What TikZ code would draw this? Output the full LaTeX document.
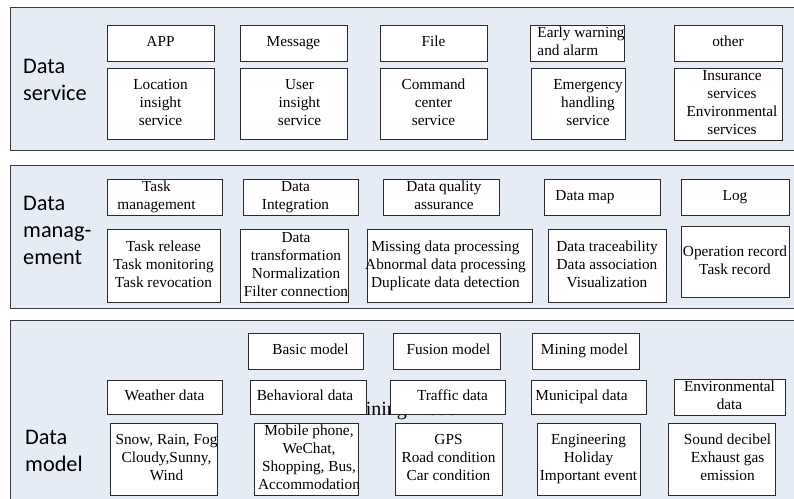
\documentclass[tikz,border=0pt]{standalone}
\usepackage{fontspec}
\setmainfont{Liberation Serif}
\newfontfamily\lblfont{Carlito}
\definecolor{bandfill}{HTML}{E6ECF6}
\definecolor{bandline}{HTML}{3C3C3C}
\definecolor{boxline}{HTML}{2A2A2A}
\newcommand\boxfont{\fontsize{15.3}{18}\selectfont}
% \cell[opts]{name}{x1}{y1}{x2}{y2}{text shift}{lines}
\newcommand\cell[8][]{%
  \node[box,#1,minimum width={(#5-#3)*1pt},minimum height={(#6-#4)*1pt}]
    (#2) at ({(#3+#5)/2},{(#4+#6)/2})
    {\makebox[0pt]{\hspace*{#7pt}\hspace*{#7pt}\raisebox{-1.5pt}{\begin{tabular}{@{}c@{}}#8\end{tabular}}}};}
\tikzset{
  band/.style={draw=bandline, fill=bandfill, line width=1.2pt},
  box/.style={draw=boxline, fill=white, line width=0.9pt, inner sep=0pt, font=\boxfont},
  lbl/.style={anchor=west, inner sep=0pt, align=left, font=\lblfont\fontsize{22.3}{27}\selectfont},
}
\begin{document}
\begin{tikzpicture}[x=1pt,y=-1pt]
\useasboundingbox (0,0) rectangle (794,498);
\clip (0,0) rectangle (794,498);

% three layers
\node[band, minimum width=800pt, minimum height=143pt, anchor=north west] (svc) at (10,7) {};
\node[band, minimum width=800pt, minimum height=143pt, anchor=north west] (mgmt) at (10,165) {};
\node[band, minimum width=800pt, minimum height=200pt, anchor=north west] (model) at (10,320) {};

\node[lbl] (lsvc) at (23,80) {Data\\service};
\node[lbl] (lmgmt) at (23,230) {Data\\manag-\\ement};
\node[lbl] (lmodel) at (25,451) {Data\\model};

% data service layer
\cell{app}{107}{25}{214}{61}{0}{APP}
\cell{msg}{240}{25}{347}{61}{0}{Message}
\cell{file}{380}{25}{487}{61}{0}{File}
\node[box, minimum width=94pt, minimum height=36pt] (warn) at (577,43)
  {\makebox[0pt]{\hspace*{8pt}\raisebox{-2pt}{\begin{tabular}{@{}l@{}}Early warning\\and alarm\end{tabular}}}};
\cell{other}{674}{25}{782}{61}{0}{other}
\cell{loc}{107}{68}{214}{139}{0}{Location\\insight\\service}
\cell{user}{240}{68}{347}{139}{6}{User\\insight\\service}
\cell{cmd}{380}{68}{487}{139}{0}{Command\\center\\service}
\cell{emer}{531}{68}{625}{139}{10}{Emergency\\handling\\service}
\cell{ins}{674}{68}{782}{140}{4}{Insurance\\services\\Environmental\\services}

% data management layer
\cell{task}{107}{179}{222}{215}{-8}{Task\\management}
\cell{integ}{243}{179}{358}{215}{-5}{Data\\Integration}
\cell{qual}{383}{179}{499}{215}{3}{Data quality\\assurance}
\cell{dmap}{544}{179}{660}{215}{-17}{Data map}
\cell{log}{681}{179}{789}{215}{0}{Log}
\cell{trel}{107}{229}{220}{302}{0}{Task release\\Task monitoring\\Task revocation}
\cell{trans}{240}{229}{348}{302}{2}{Data\\transformation\\Normalization\\Filter connection}
\cell{miss}{367}{229}{532}{302}{-4}{Missing data processing\\Abnormal data processing\\Duplicate data detection}
\cell{trace}{548}{229}{666}{302}{0}{Data traceability\\Data association\\Visualization}
\cell{oper}{681}{226}{789}{297}{0}{Operation record\\Task record}

% data model layer; the loose caption sits under the boxes
\node[font=\fontsize{20}{24}\selectfont, anchor=base, inner sep=0pt] (ghost) at (405,415) {Mining model};
\cell{basic}{248}{333}{363}{369}{5}{Basic model}
\cell{fusion}{393}{333}{500}{369}{2}{Fusion model}
\cell{mining}{532}{333}{639}{369}{-1}{Mining model}
\cell{weather}{107}{380}{222}{414}{0}{Weather data}
\cell{behav}{250}{380}{366}{414}{-3}{Behavioral data}
\cell{traffic}{390}{380}{505}{414}{5}{Traffic data}
\cell{munic}{531}{380}{646}{414}{-7}{Municipal data}
\cell{env}{674}{380}{785}{414}{0}{Environmental\\data}
\cell{snow}{110}{423}{217}{495}{3}{Snow, Rain, Fog\\Cloudy,Sunny,\\Wind}
\cell{mobile}{254}{423}{358}{495}{3}{Mobile phone,\\WeChat,\\Shopping, Bus,\\Accommodation}
\cell{gps}{395}{423}{502}{495}{0}{GPS\\Road condition\\Car condition}
\cell{eng}{537}{423}{640}{495}{0}{Engineering\\Holiday\\Important event}
\cell{sound}{668}{423}{775}{495}{6}{Sound decibel\\Exhaust gas\\emission}
\end{tikzpicture}
\end{document}
